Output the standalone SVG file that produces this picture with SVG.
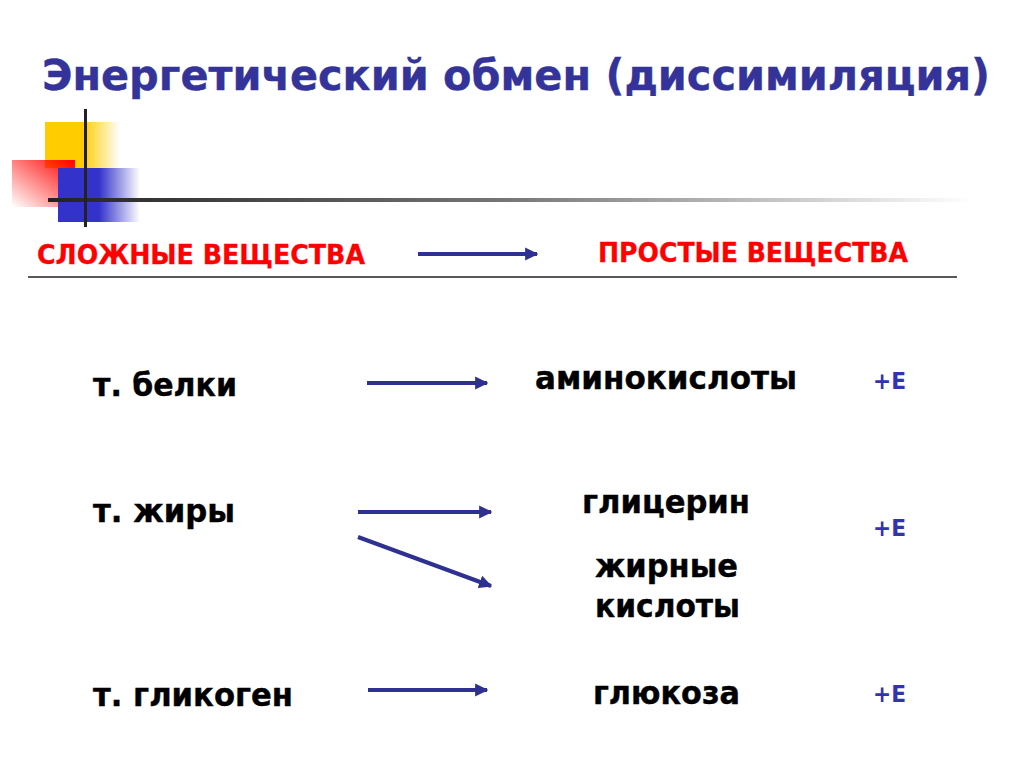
<svg xmlns="http://www.w3.org/2000/svg" width="1024" height="767" viewBox="0 0 1024 767">
<defs>
<linearGradient id="gy" x1="0" y1="0" x2="1" y2="0"><stop offset="0.5" stop-color="#ffcc00"/><stop offset="1" stop-color="#ffcc00" stop-opacity="0"/></linearGradient>
<linearGradient id="gb" x1="0" y1="0" x2="1" y2="0"><stop offset="0.5" stop-color="#3333cc"/><stop offset="1" stop-color="#3333cc" stop-opacity="0"/></linearGradient>
<linearGradient id="gr" x1="1" y1="0" x2="0" y2="1"><stop offset="0" stop-color="#ff0000"/><stop offset="1" stop-color="#ff0000" stop-opacity="0"/></linearGradient>
<linearGradient id="gl" x1="0" y1="0" x2="1" y2="0"><stop offset="0" stop-color="#222"/><stop offset="0.5" stop-color="#777"/><stop offset="1" stop-color="#fff"/></linearGradient>
<marker id="ah" viewBox="0 0 10 10" refX="9" refY="5" markerWidth="3.3" markerHeight="3.3" orient="auto" markerUnits="strokeWidth"><path d="M0,0 L10,5 L0,10 z" fill="#2e3192"/></marker>
</defs>
<style>
.t{font-family:"DejaVu Sans","Liberation Sans",sans-serif;font-weight:bold}
.ti{fill:#333399;font-size:42px;stroke:#333399;stroke-width:0.4}
.hd{fill:#ff0000;font-size:27px;stroke:#ff0000;stroke-width:0.3}
.bd{fill:#000;font-size:32px;stroke:#000;stroke-width:0.4}
.e{fill:#3333aa;font-size:23px}
.ar{stroke:#2e3192;stroke-width:4;fill:none;marker-end:url(#ah)}
</style>
<rect width="1024" height="767" fill="#fff"/>
<g id="decor">
<rect x="45" y="122" width="75" height="46" fill="url(#gy)"/>
<rect x="12" y="160" width="63" height="47" fill="url(#gr)"/>
<rect x="58" y="168" width="82" height="54" fill="url(#gb)"/>
<rect x="48" y="198" width="925" height="4" fill="url(#gl)"/>
<rect x="84" y="109" width="3" height="118" fill="#222"/>
</g>
<g id="title"><text class="t ti" x="42" y="90" textLength="948" lengthAdjust="spacingAndGlyphs">Энергетический обмен (диссимиляция)</text></g>
<g id="header-left"><text class="t hd" x="37" y="264" textLength="328" lengthAdjust="spacingAndGlyphs">СЛОЖНЫЕ ВЕЩЕСТВА</text></g>
<g id="header-right"><text class="t hd" x="598" y="262" textLength="310" lengthAdjust="spacingAndGlyphs">ПРОСТЫЕ ВЕЩЕСТВА</text></g>
<line x1="28" y1="277" x2="957" y2="277" stroke="#222" stroke-width="1.5"/>
<g id="n-belki"><text class="t bd" x="93" y="396" textLength="144" lengthAdjust="spacingAndGlyphs">т. белки</text></g>
<g id="n-amino"><text class="t bd" x="535" y="389" textLength="262" lengthAdjust="spacingAndGlyphs">аминокислоты</text></g>
<g id="n-e1"><text class="t e" x="873" y="389" textLength="33" lengthAdjust="spacingAndGlyphs">+E</text></g>
<g id="n-zhiry"><text class="t bd" x="93" y="522" textLength="142" lengthAdjust="spacingAndGlyphs">т. жиры</text></g>
<g id="n-glic"><text class="t bd" x="582" y="513" textLength="168" lengthAdjust="spacingAndGlyphs">глицерин</text></g>
<g id="n-e2"><text class="t e" x="873" y="536" textLength="33" lengthAdjust="spacingAndGlyphs">+E</text></g>
<g id="n-zhk"><text class="t bd" x="595" y="577" textLength="143" lengthAdjust="spacingAndGlyphs">жирные</text><text class="t bd" x="595" y="617" textLength="145" lengthAdjust="spacingAndGlyphs">кислоты</text></g>
<g id="n-glik"><text class="t bd" x="93" y="706" textLength="200" lengthAdjust="spacingAndGlyphs">т. гликоген</text></g>
<g id="n-gluk"><text class="t bd" x="593" y="704" textLength="147" lengthAdjust="spacingAndGlyphs">глюкоза</text></g>
<g id="n-e3"><text class="t e" x="873" y="702" textLength="33" lengthAdjust="spacingAndGlyphs">+E</text></g>
<g id="connectors">
<line class="ar" x1="418" y1="254" x2="537" y2="254"/>
<line class="ar" x1="367" y1="383" x2="487" y2="383"/>
<line class="ar" x1="358" y1="512" x2="491" y2="512"/>
<line class="ar" x1="358" y1="537" x2="491" y2="586"/>
<line class="ar" x1="368" y1="690" x2="487" y2="690"/>
</g>
</svg>
